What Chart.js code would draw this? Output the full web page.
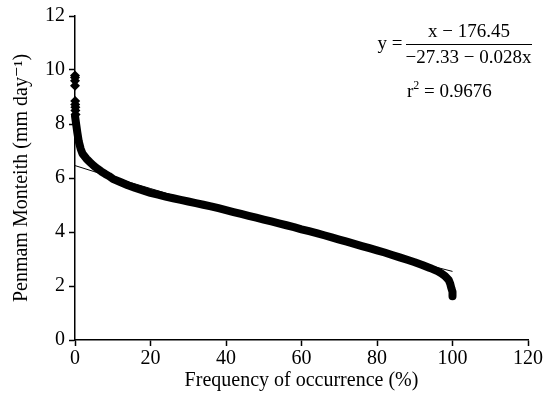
<!DOCTYPE html>
<html>
<head>
<meta charset="utf-8">
<script src="https://cdn.jsdelivr.net/npm/chart.js@4"></script>
<style>
  body { margin: 0; background: #fff; }
  #wrap { width: 545px; height: 396px; }
</style>
</head>
<body>
<div id="wrap"><canvas id="myChart"></canvas></div>
<script>
// frequency of occurrence (%) and Penman Monteith ET (mm/day)
let freq = [0, 0.3, 0.6, 1, 1.5, 2, 3, 4, 5, 6, 7, 8, 9, 10, 12, 14, 16, 18, 20, 22, 24, 26, 28, 30,
  32, 34, 36, 38, 40, 42, 44, 46, 48, 50, 52, 54, 56, 58, 60, 62, 64, 66, 68, 70, 72, 74, 76, 78, 80,
  82, 84, 86, 88, 90, 92, 94, 96, 97, 98, 99, 99.4, 99.7, 100, 100]
let etValues = [8.3, 8.0, 7.7, 7.35, 7.08, 6.9, 6.72, 6.58, 6.45, 6.34, 6.24, 6.15, 6.07, 5.97, 5.85,
  5.73, 5.63, 5.54, 5.45, 5.38, 5.31, 5.25, 5.19, 5.13, 5.07, 5.01, 4.95, 4.88, 4.81, 4.74, 4.67, 4.6,
  4.53, 4.46, 4.39, 4.32, 4.25, 4.18, 4.1, 4.03, 3.96, 3.88, 3.8, 3.72, 3.64, 3.56, 3.48, 3.4, 3.32,
  3.24, 3.15, 3.06, 2.97, 2.88, 2.78, 2.67, 2.55, 2.47, 2.37, 2.22, 2.08, 1.92, 1.78, 1.62]
// isolated high values at the very start
let peakFreq = [0, 0, 0, 0, 0.05, 0.05, 0.1, 0.1, 0.15]
let peakValues = [9.8, 9.72, 9.6, 9.42, 8.85, 8.72, 8.62, 8.5, 8.35]
// fitted curve as drawn
let fitFreq = [0, 5, 10, 15, 20, 25, 30, 35, 40, 45, 50, 55, 60, 65, 70, 75, 80, 85, 90, 95, 100]
let fitValues = [6.46, 6.24, 6.03, 5.82, 5.61, 5.40, 5.20, 5.00, 4.80, 4.60, 4.40, 4.21, 4.01, 3.82,
  3.63, 3.45, 3.26, 3.08, 2.90, 2.72, 2.54]
let xTicks = [0, 20, 40, 60, 80, 100, 120]
let yTicks = [0, 2, 4, 6, 8, 10, 12]

const serif = "'Liberation Serif', 'Times New Roman', 'DejaVu Serif', serif";

function pts(xs, ys) {
  return xs.map((x, i) => ({ x: x, y: ys[i] }));
}

const equation = {
  id: 'equation',
  afterDatasetsDraw(chart) {
    const ctx = chart.ctx;
    ctx.save();
    ctx.fillStyle = '#000';
    ctx.strokeStyle = '#000';
    ctx.font = '19px ' + serif;
    ctx.textAlign = 'center';
    ctx.textBaseline = 'middle';
    ctx.fillText('y =', 390, 44);
    ctx.textBaseline = 'alphabetic';
    ctx.fillText('x \u2212 176.45', 469, 37);
    ctx.fillText('\u221227.33 \u2212 0.028x', 468.5, 63);
    ctx.lineWidth = 1;
    ctx.beginPath();
    ctx.moveTo(406, 44.5);
    ctx.lineTo(532, 44.5);
    ctx.stroke();
    // r squared with a raised 2
    ctx.textAlign = 'left';
    let x = 407;
    ctx.fillText('r', x, 97);
    x += ctx.measureText('r').width;
    ctx.font = '12px ' + serif;
    ctx.fillText('2', x, 89);
    x += ctx.measureText('2').width;
    ctx.font = '19px ' + serif;
    ctx.fillText(' = 0.9676', x, 97);
    ctx.restore();
  }
};

function axis(min, max, ticks, title, pos) {
  return {
    type: 'linear',
    position: pos,
    min: min,
    max: max,
    afterBuildTicks: s => { s.ticks = ticks.map(v => ({ value: v })); },
    afterFit: s => {
      if (pos === 'left') s.width = 75;
      else s.height = 56;
    },
    ticks: { color: '#000', font: { family: serif, size: 20 }, padding: pos === 'left' ? 4 : 1 },
    grid: { drawOnChartArea: false, drawTicks: true, tickLength: 6, tickWidth: 1.5, tickColor: '#000' },
    border: { display: true, color: '#000', width: 1.5 },
    title: {
      display: true, text: title, color: '#000',
      font: { family: serif, size: 20 },
      padding: pos === 'left' ? { top: 10, bottom: 0 } : { top: 0, bottom: 3 }
    }
  };
}

new Chart(document.getElementById('myChart').getContext('2d'), {
  type: 'scatter',
  data: {
    datasets: [
      {
        label: 'Fit',
        data: pts(fitFreq, fitValues),
        showLine: true,
        borderColor: '#000',
        borderWidth: 1,
        pointRadius: 0,
        order: 0
      },
      {
        label: 'Penman Monteith',
        data: pts(freq, etValues),
        showLine: true,
        clip: false,
        borderColor: '#000',
        backgroundColor: '#000',
        borderWidth: 8,
        borderJoinStyle: 'round',
        borderCapStyle: 'round',
        pointStyle: 'rectRot',
        pointRadius: 3.5,
        pointBorderWidth: 0,
        order: 1
      },
      {
        label: 'Peaks',
        data: pts(peakFreq, peakValues),
        clip: false,
        borderColor: '#000',
        backgroundColor: '#000',
        pointStyle: 'rectRot',
        pointRadius: 5,
        pointBorderWidth: 0,
        order: 2
      }
    ]
  },
  options: {
    responsive: true,
    maintainAspectRatio: false,
    animation: false,
    layout: { padding: { left: 0, right: 17, top: 15, bottom: 0 } },
    plugins: { legend: { display: false }, tooltip: { enabled: false } },
    scales: {
      x: axis(0, 120, xTicks, 'Frequency of occurrence (%)', 'bottom'),
      y: axis(0, 12, yTicks, 'Penmam Monteith (mm day\u207b\u00b9)', 'left')
    }
  },
  plugins: [equation]
});
</script>
</body>
</html>
